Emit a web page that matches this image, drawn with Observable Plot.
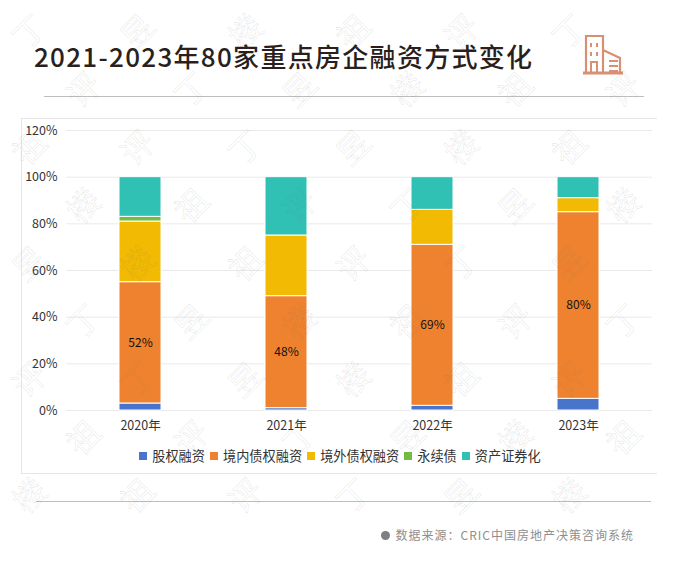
<!DOCTYPE html>
<html><head><meta charset="utf-8">
<script src="https://cdn.jsdelivr.net/npm/d3@7"></script>
<script src="https://cdn.jsdelivr.net/npm/@observablehq/plot@0.6"></script>
<style>
html,body{margin:0;padding:0;background:#fff;}
#page{position:relative;width:696px;height:564px;overflow:hidden;font-family:"Noto Sans CJK SC","Noto Sans",sans-serif;}
#wm{position:absolute;left:0;top:0;width:696px;height:564px;overflow:hidden;pointer-events:none;}
#wm span{position:absolute;font-size:32px;line-height:32px;color:transparent;-webkit-text-stroke:.6px rgba(110,110,110,.17);transform:rotate(-45deg);font-weight:400;}
#title{position:absolute;left:34px;top:37px;font-size:26px;line-height:38px;font-weight:500;color:#2a1f1c;letter-spacing:1.3px;white-space:nowrap;}
#icon{position:absolute;left:582px;top:33px;}
.rule{position:absolute;height:1px;background:#bdbdbd;}
#frame{position:absolute;left:21px;top:118px;width:636px;height:356px;border:1px solid #e6e6e6;border-right:none;box-sizing:border-box;}
#plot{position:absolute;left:21px;top:118px;}
#legend{position:absolute;left:21px;top:446px;width:636px;display:flex;justify-content:center;padding-left:7px;box-sizing:border-box;font-size:13.2px;line-height:19px;color:#333;white-space:nowrap;}
#legend div{display:flex;align-items:center;margin-right:5px;}
#legend i{display:inline-block;width:8px;height:8px;margin-right:5px;}
#source{position:absolute;right:62px;top:526px;font-size:12px;line-height:18px;color:#8e8e8e;letter-spacing:1px;white-space:nowrap;}
#source b{display:inline-block;width:9px;height:9px;border-radius:50%;background:#7f7f7f;margin-right:6px;}
</style></head>
<body>
<div id="page">
<div id="title"></div>
<svg id="icon" width="44" height="42" viewBox="0 0 44 42" fill="none" stroke="#d98f73" stroke-width="2.2">
<path d="M1 40H41" stroke-width="3"/>
<path d="M4 40V3H21V40M21 17L38 25V40"/>
<path d="M9 10V14M15 10V14M9 19V23M15 19V23M9 28V40M15 28V40M9 29H15M27 28H36M27 33H36M27 38H36" stroke-width="2"/>
</svg>
<div class="rule" style="left:44px;top:96px;width:600px"></div>
<div id="frame"></div>
<div id="plot"></div>
<div id="legend"></div>
<div class="rule" style="left:36px;top:501px;width:615px"></div>
<div id="source"></div>
<div id="wm"></div>
</div>
<script>
const titleText = "2021-2023年80家重点房企融资方式变化";
const sourceText = "数据来源：CRIC中国房地产决策咨询系统";
const years = ["2020年","2021年","2022年","2023年"];
const seriesNames = ["股权融资","境内债权融资","境外债权融资","永续债","资产证券化"];
const seriesColors = ["#4874cb","#ee822f","#f2ba02","#75bd42","#30c0b4"];
const equity   = [3,1,2,5];
const domestic = [52,48,69,80];
const overseas = [26,26,15,6];
const perpetual= [2,0,0,0];
const abs      = [17,25,14,9];
const yTicks = [0,20,40,60,80,100,120];
const watermarkChars = ["丁","祖","昱","评","楼"];

const allSeries = [equity,domestic,overseas,perpetual,abs];
const rows = [];
seriesNames.forEach((s,i)=>years.forEach((y,j)=>rows.push({year:y,series:s,value:allSeries[i][j]})));

document.getElementById("title").textContent = titleText;
document.getElementById("source").innerHTML = "<b></b>"+sourceText;

const wm = d3.select("#wm");
for (let r=0;r<10;r++){
  for (let c=0;c<7;c++){
    const x = 12 + c*108 + (r%2)*54;
    const y = 14 + r*58;
    if (x>640 || y>525) continue;
    wm.append("span").style("left",x+"px").style("top",y+"px")
      .text(watermarkChars[(c*2+r*3)%5]);
  }
}

const legend = d3.select("#legend");
seriesNames.forEach((s,i)=>{
  const d = legend.append("div");
  d.append("i").style("background",seriesColors[i]);
  d.append("span").text(s);
});

const chart = Plot.plot({
  width:636, height:326,
  marginLeft:45, marginRight:5, marginTop:12, marginBottom:34,
  style:{background:"transparent",fontFamily:'"Noto Sans CJK SC","Noto Sans",sans-serif',fontSize:"12.5px",color:"#333"},
  x:{domain:years,paddingInner:0.713,paddingOuter:0.3565,label:null,tickSize:0,tickPadding:11},
  y:{domain:[0,120],ticks:yTicks,tickFormat:d=>d+"%",label:null,tickSize:0,tickPadding:9},
  color:{domain:seriesNames,range:seriesColors},
  marks:[
    Plot.ruleY(yTicks,{stroke:"#e9e9e9",strokeWidth:1,strokeOpacity:1}),
    Plot.barY(rows,Plot.stackY({x:"year",y:"value",z:"series",order:null,fill:"series",stroke:"#fff",strokeWidth:1,inset:0})),
    Plot.text(rows,Plot.stackY({x:"year",y:"value",z:"series",order:null,
      text:d=>d.series===seriesNames[1]?d.value+"%":null,fill:"#111",fontSize:12}))
  ]
});
document.getElementById("plot").appendChild(chart);
</script>
</body></html>
